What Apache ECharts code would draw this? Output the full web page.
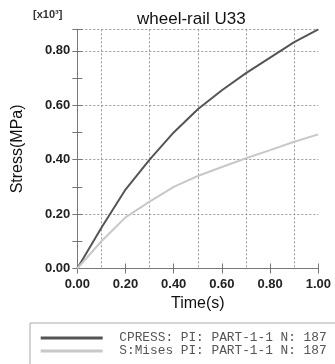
<!DOCTYPE html>
<html><head><meta charset="utf-8">
<script src="https://cdn.jsdelivr.net/npm/echarts@6/dist/echarts.min.js"></script>
<style>html,body{margin:0;padding:0;background:#fff;}#c{width:335px;height:364px;}</style>
</head><body><div id="c"></div>
<script>
const times = [0, 0.1, 0.2, 0.3, 0.4, 0.5, 0.6, 0.7, 0.8, 0.9, 1.0];
const cpress = [0, 0.15, 0.29, 0.40, 0.50, 0.585, 0.655, 0.718, 0.775, 0.832, 0.879];
const mises = [0, 0.10, 0.188, 0.246, 0.30, 0.34, 0.373, 0.405, 0.435, 0.466, 0.493];
const seriesNames = ['CPRESS: PI: PART-1-1 N: 187', 'S:Mises PI: PART-1-1 N: 187'];
const yMax = 0.879;

const chart = echarts.init(document.getElementById('c'), null, {renderer: 'canvas'});
const frame = {show: true, lineStyle: {color: '#777', width: 1}};
const gridLine = {show: true, lineStyle: {color: '#999', width: 1, type: [2, 2]}};
const isEvenTenth = v => { const t = v * 10; return Math.abs(t - Math.round(t)) < 1e-6 && Math.round(t) % 2 === 0; };
const labelStyle = {color: '#222', fontFamily: 'Liberation Sans', fontSize: 13, fontWeight: 'bold'};

chart.setOption({
  animation: false,
  backgroundColor: '#fff',
  title: [
    {text: 'wheel-rail U33', left: 137, top: 11, padding: 0,
     textStyle: {fontFamily: 'Liberation Sans', fontSize: 17, fontWeight: 'normal', color: '#111'}},
    {text: '[x10³]', left: 33, top: 9, padding: 0,
     textStyle: {fontFamily: 'Liberation Sans', fontSize: 11, fontWeight: 'bold', color: '#333'}}
  ],
  grid: {left: 77.3, top: 29.3, width: 241, height: 239.2, containLabel: false},
  xAxis: [
    {type: 'value', position: 'bottom', min: 0, max: 1, interval: 0.2,
     axisLine: frame, axisTick: {show: true, inside: true, length: 5, lineStyle: {color: '#777'}},
     axisLabel: Object.assign({margin: 9, formatter: v => v.toFixed(2)}, labelStyle),
     splitLine: {show: false},
     minorTick: {show: false, splitNumber: 2},
     minorSplitLine: gridLine,
     name: 'Time(s)', nameLocation: 'middle', nameGap: 27,
     nameTextStyle: {fontFamily: 'Liberation Sans', fontSize: 16, color: '#111'}},
    {type: 'value', position: 'top', min: 0, max: 1, interval: 0.2,
     axisLine: frame, axisTick: {show: true, inside: true, length: 5, lineStyle: {color: '#777'}},
     axisLabel: {show: false}, splitLine: {show: false}}
  ],
  yAxis: [
    {type: 'value', position: 'left', min: 0, max: yMax, interval: 0.1,
     axisLine: frame, axisTick: {show: true, inside: true, length: 5, lineStyle: {color: '#777'}},
     axisLabel: Object.assign({margin: 7, formatter: v => isEvenTenth(v) ? v.toFixed(2) : ''}, labelStyle),
     splitLine: {show: false},
     name: 'Stress(MPa)', nameLocation: 'middle', nameGap: 52, nameRotate: 90,
     nameTextStyle: {fontFamily: 'Liberation Sans', fontSize: 16, color: '#111'}},
    {type: 'value', position: 'right', min: 0, max: yMax, interval: 0.1,
     axisLine: frame, axisTick: {show: true, inside: true, length: 5, lineStyle: {color: '#777'}},
     axisLabel: {show: false}, splitLine: {show: false}},
    {type: 'value', position: 'left', min: 0, max: yMax, interval: 0.2,
     axisLine: {show: false}, axisTick: {show: false}, axisLabel: {show: false},
     splitLine: gridLine}
  ],
  legend: {
    left: 30, top: 323, width: 320, height: 60, orient: 'vertical',
    padding: [8.5, 30, 20, 10.7],
    borderColor: '#aaa', borderWidth: 1,
    itemWidth: 62, itemHeight: 3, itemGap: 0, icon: 'rect',
    textStyle: {fontFamily: 'Liberation Mono', fontSize: 12.8, color: '#555', lineHeight: 11, padding: [0, 0, 0, 11.6]},
    data: seriesNames
  },
  series: [
    {name: seriesNames[0], type: 'line', xAxisIndex: 0, yAxisIndex: 0, showSymbol: false, symbol: 'none',
     lineStyle: {color: '#555', width: 2}, itemStyle: {color: '#555'},
     data: times.map((t, i) => [t, cpress[i]])},
    {name: seriesNames[1], type: 'line', xAxisIndex: 0, yAxisIndex: 0, showSymbol: false, symbol: 'none',
     lineStyle: {color: '#c8c8c8', width: 2}, itemStyle: {color: '#c8c8c8'},
     data: times.map((t, i) => [t, mises[i]])}
  ]
});
</script></body></html>
